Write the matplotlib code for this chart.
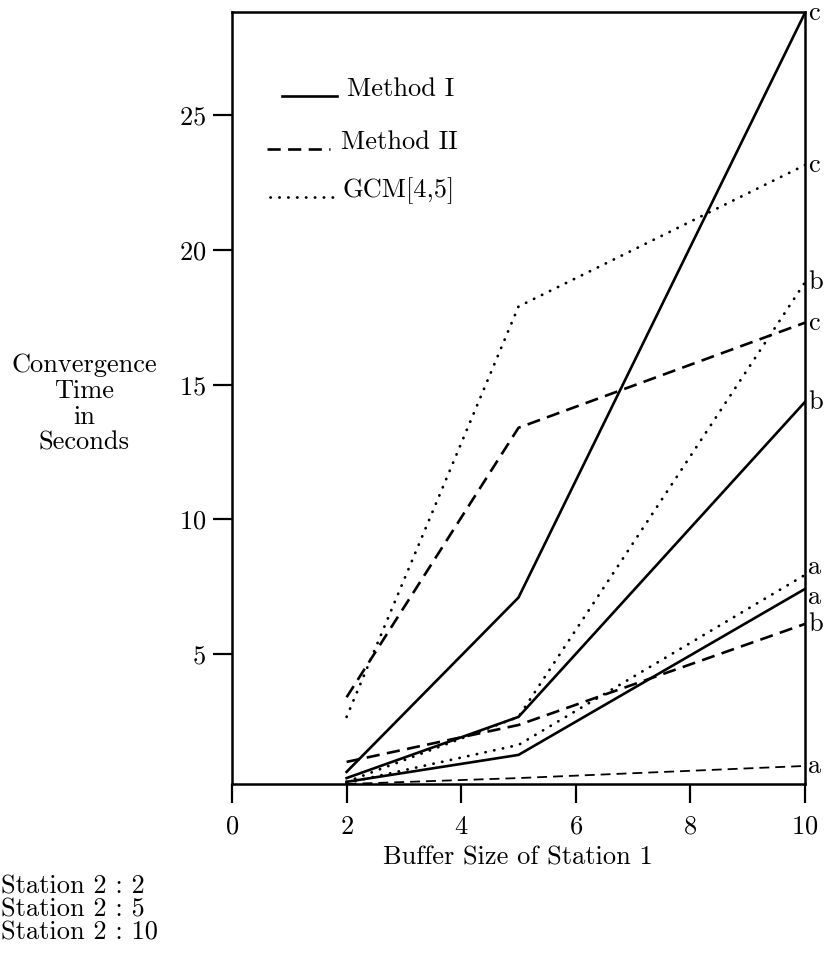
import matplotlib.pyplot as plt

plt.rcParams["font.family"] = ["cmr10", "DejaVu Serif"]
plt.rcParams["axes.formatter.use_mathtext"] = True

# buffer size of station 1
buffer_size = [2, 5, 10]
curve_labels = ["a", "b", "c"]  # station 2 : 2, 5, 10

method1 = {"a": [0.26, 1.26, 7.42],
           "b": [0.40, 2.67, 14.36],
           "c": [0.63, 7.10, 28.80]}
method2 = {"a": [0.18, 0.40, 0.85],
           "b": [1.00, 2.37, 6.12],
           "c": [3.40, 13.40, 17.30]}
gcm = {"a": [0.22, 1.63, 7.94],
       "b": [0.26, 2.67, 18.80],
       "c": [2.67, 17.90, 23.15]}

station_notes = ["Station 2 : 2", "Station 2 : 5", "Station 2 : 10"]

FS = 19
solid = dict(color="black", lw=1.9, linestyle="-")
dashed = dict(color="black", lw=1.9, linestyle=(0, (5, 2.8)))
dashed_thin = dict(color="black", lw=1.3, linestyle=(0, (5.5, 3.3)))
dotted = dict(color="black", lw=2.0, linestyle=(0, (0.1, 3.1)),
              dash_capstyle="round")

W, H = 824, 965
fig = plt.figure(figsize=(W / 100, H / 100), dpi=100)
ax = fig.add_axes([232 / W, 181 / H, 573 / W, 772 / H])

for k in curve_labels:
    ax.plot(buffer_size, method1[k], **solid)
    ax.plot(buffer_size, method2[k], **(dashed_thin if k == "a" else dashed))
    ax.plot(buffer_size, gcm[k], **dotted)

# curve end labels; the two "a" labels sit very close, nudge them apart a bit
nudge = {("gcm", "a"): 0.3, ("m1", "a"): -0.3}
for name, d in (("m1", method1), ("m2", method2), ("gcm", gcm)):
    for k in curve_labels:
        y = d[k][-1] + nudge.get((name, k), 0)
        ax.text(10.06, y, k, fontsize=FS, ha="left", va="center",
                clip_on=False)

ax.set_xlim(0, 10)
ax.set_ylim(0.18, 28.83)
ax.set_xticks([0, 2, 4, 6, 8, 10])
ax.set_yticks([5, 10, 15, 20, 25])
ax.tick_params(axis="both", direction="out", length=13.5, width=1.6,
               labelsize=FS)
ax.tick_params(axis="x", pad=9)
ax.tick_params(axis="y", pad=5)
for s in ax.spines.values():
    s.set_linewidth(1.8)

fig.text(518 / W, 1 - 858 / H, "Buffer Size of Station 1", fontsize=FS,
         ha="center", va="center")
fig.text(84 / W, 1 - 404 / H, "Convergence\nTime\nin\nSeconds",
         fontsize=FS, ha="center", va="center", linespacing=1.12)

# legend drawn by hand
def ax_xy(px, py):
    return (px - 232) / 573, (784 - py) / 772

legend_rows = [("Method I", solid, 282, 337, 96, 347),
               ("Method II", dashed, 267, 330, 149, 341),
               ("GCM[4,5]", dotted, 270, 333, 197, 343)]
for text, style, x0, x1, yl, xt in legend_rows:
    a0 = ax_xy(x0, yl)
    a1 = ax_xy(x1, yl)
    ax.plot([a0[0], a1[0]], [a0[1], a1[1]], transform=ax.transAxes, **style)
    tx, ty = ax_xy(xt, yl)
    ax.text(tx, ty, text, fontsize=FS, ha="left", va="baseline",
            transform=ax.transAxes)

for i, note in enumerate(station_notes):
    fig.text(1 / W, 1 - (887 + 23 * i) / H, note, fontsize=FS,
             ha="left", va="center")

fig.savefig("out.png", dpi=100)
